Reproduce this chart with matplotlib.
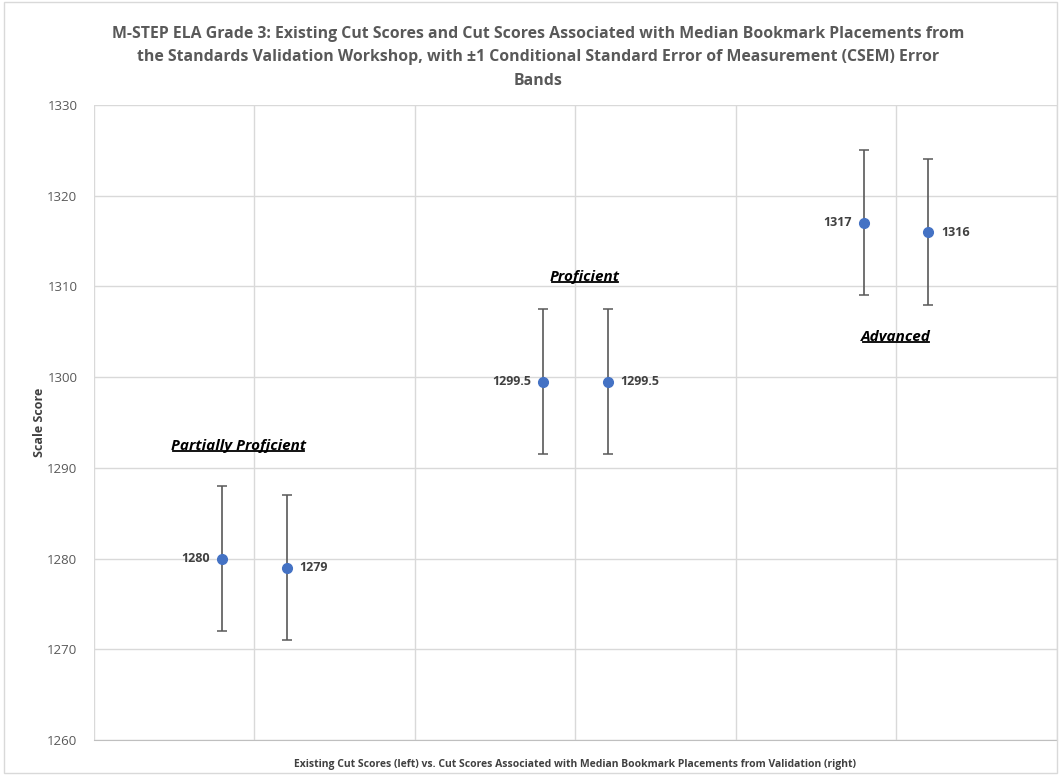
import matplotlib.pyplot as plt
from matplotlib.patches import Rectangle
from matplotlib.lines import Line2D

# cut scores, left = existing, right = validation workshop median bookmark
x_pos = [0.8, 1.2, 2.8, 3.2, 4.8, 5.2]
scores = [1280, 1279, 1299.5, 1299.5, 1317, 1316]
csem = [8, 8, 8, 8, 8, 8]
label_side = ['left', 'right', 'left', 'right', 'left', 'right']

levels = ['Partially Profjcient', 'Proficient', 'Advanced']
level_x = [0.9, 3.06, 5.0]
level_y = [1291.6, 1310.3, 1303.7]

plt.rcParams['font.family'] = ['Open Sans', 'DejaVu Sans']

fig = plt.figure(figsize=(10.6, 7.75), dpi=100)
ax = fig.add_axes([0.0887, 0.0452, 0.9083, 0.8193])

ax.errorbar(x_pos, scores, yerr=csem, fmt='o', color='#4472C4', ms=7,
            ecolor='#595959', elinewidth=1.2, capsize=3.5, capthick=1.1, zorder=3)

for x, y, side in zip(x_pos, scores, label_side):
    lab = f'{y:g}'
    if side == 'left':
        ax.annotate(lab, (x, y), xytext=(-9, 0), textcoords='offset points',
                    ha='right', va='center', fontsize=9, fontweight='bold', color='#404040')
    else:
        ax.annotate(lab, (x, y), xytext=(9, 0), textcoords='offset points',
                    ha='left', va='center', fontsize=9, fontweight='bold', color='#404040')

level_texts = []
for name, x, y in zip(levels, level_x, level_y):
    t = ax.text(x, y, name, ha='center', va='bottom', fontsize=11, fontweight='bold',
                fontstyle='italic', color='black')
    level_texts.append(t)

ax.set_xlim(0, 6)
ax.set_ylim(1260, 1330)
ax.set_xticks(range(0, 7))
ax.set_xticklabels([])
ax.set_yticks(range(1260, 1331, 10))
ax.tick_params(axis='both', length=0, labelsize=9.5, labelcolor='#595959', pad=12)
ax.grid(True, color='#d9d9d9', linewidth=1)
ax.set_axisbelow(True)
for s in ['top', 'right', 'left']:
    ax.spines[s].set_visible(False)
ax.spines['bottom'].set_color('#bfbfbf')

ax.set_xlabel('Existing Cut Scores (left) vs. Cut Scores Associated with Median Bookmark Placements from Validation (right)',
              fontsize=7.5, fontweight='bold', color='#404040', labelpad=2)
ax.set_ylabel('Scale Score', fontsize=9, fontweight='bold', color='#404040')
ax.yaxis.set_label_coords(-0.05, 0.5)

fig.text(0.508, 0.967,
         'M-STEP ELA Grade 3: Existing Cut Scores and Cut Scores Associated with Median Bookmark Placements from\n'
         'the Standards Validation Workshop, with \u00b11 Conditional Standard Error of Measurement (CSEM) Error\n'
         'Bands',
         ha='center', va='top', fontsize=11.4, fontweight='bold', color='#595959', linespacing=1.65)

fig.patches.append(Rectangle((0.004, 0.003), 0.993, 0.994, transform=fig.transFigure,
                             fill=False, edgecolor='#d9d9d9', linewidth=1))

# underline the level labels
fig.canvas.draw()
r = fig.canvas.get_renderer()
for t in level_texts:
    bb = t.get_window_extent(renderer=r)
    yl = bb.y0 + 2
    fig.add_artist(Line2D([bb.x0 + 2, bb.x1 - 2], [yl, yl], transform=None,
                          color='black', linewidth=1.3))

fig.savefig('out.png', dpi=100)
